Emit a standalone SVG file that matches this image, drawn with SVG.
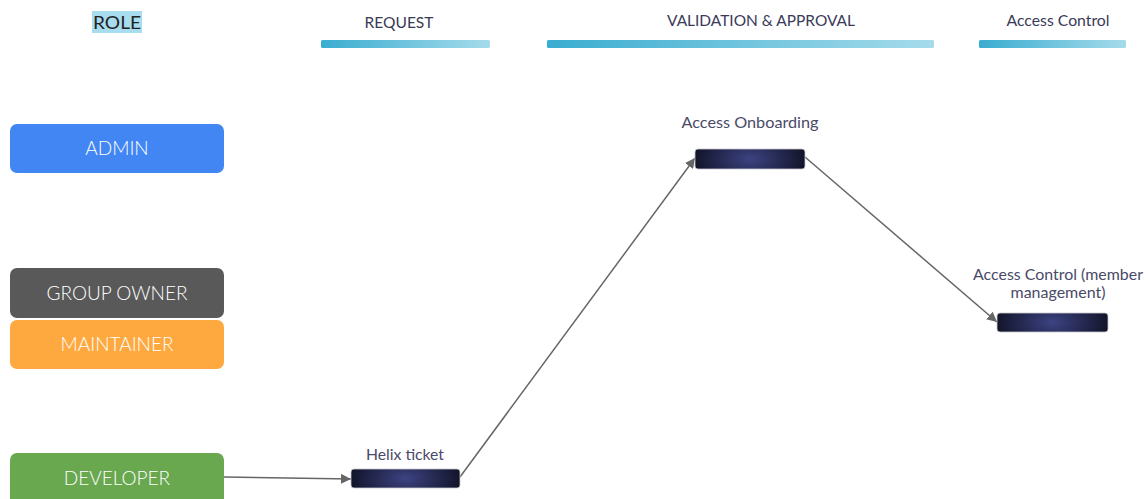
<svg xmlns="http://www.w3.org/2000/svg" width="1148" height="499" viewBox="0 0 1148 499">
<defs>
<linearGradient id="bar" x1="0" y1="0" x2="1" y2="0">
<stop offset="0" stop-color="#3aadd0"/>
<stop offset="1" stop-color="#a5dbeb"/>
</linearGradient>
<radialGradient id="dark" cx="0.5" cy="0.5" r="0.5" gradientTransform="translate(0.5 0.5) scale(1 3) translate(-0.5 -0.5)">
<stop offset="0" stop-color="#3c4382"/>
<stop offset="1" stop-color="#13152b"/>
</radialGradient>
<marker id="arr" viewBox="0 0 10 10" refX="10" refY="5" markerWidth="10" markerHeight="10" markerUnits="userSpaceOnUse" orient="auto">
<path d="M0,0 L10,5 L0,10 z" fill="#666"/>
</marker>
<style>
.hdr{font-family:Lato,"Noto Sans",sans-serif;font-size:15px;fill:#3a3a58;text-anchor:middle}
.role{font-family:Lato,"Noto Sans",sans-serif;font-size:19px;font-weight:300;fill:#ffffff;text-anchor:middle}
.lbl{font-family:Lato,"Noto Sans",sans-serif;font-size:15px;fill:#4a4a68;text-anchor:middle}
.dk{fill:url(#dark);stroke:#c8c8d0;stroke-width:0.8}
.bar{fill:url(#bar)}
.conn{stroke:#666;stroke-width:1.5;fill:none;marker-end:url(#arr)}
</style>
</defs>
<rect width="1148" height="499" fill="#ffffff"/>
<g id="header">
<rect x="92" y="11" width="50" height="22" fill="#a8dcef"/>
<text class="hdr" x="117" y="29" style="font-size:18px;fill:#222" textLength="48" lengthAdjust="spacingAndGlyphs">ROLE</text>
<text class="hdr" x="399" y="28" textLength="69" lengthAdjust="spacingAndGlyphs">REQUEST</text>
<rect class="bar" x="321" y="40" width="169" height="8" rx="1.5"/>
<text class="hdr" x="761" y="26" textLength="188" lengthAdjust="spacingAndGlyphs">VALIDATION &amp; APPROVAL</text>
<rect class="bar" x="547" y="40" width="387" height="8" rx="1.5"/>
<text class="hdr" x="1058" y="26" textLength="103" lengthAdjust="spacingAndGlyphs">Access Control</text>
<rect class="bar" x="979" y="40" width="147" height="8" rx="1.5"/>
</g>
<g id="role-admin">
<rect x="10" y="124" width="214" height="49" rx="7" fill="#4286f4"/>
<text class="role" x="117" y="155">ADMIN</text>
</g>
<g id="role-group-owner">
<rect x="10" y="268" width="214" height="50" rx="7" fill="#595959"/>
<text class="role" x="117" y="300">GROUP OWNER</text>
</g>
<g id="role-maintainer">
<rect x="10" y="320" width="214" height="49" rx="7" fill="#fea940"/>
<text class="role" x="117" y="351">MAINTAINER</text>
</g>
<g id="role-developer">
<rect x="10" y="453" width="214" height="52" rx="7" fill="#69a84f"/>
<text class="role" x="117" y="485">DEVELOPER</text>
</g>
<g id="connectors">
<path class="conn" d="M224,477 L351,479"/>
<path class="conn" d="M460,477 L695,158"/>
<path class="conn" d="M805,157 L997,322"/>
</g>
<g id="node-helix">
<text class="lbl" x="405" y="460" textLength="78" lengthAdjust="spacingAndGlyphs">Helix ticket</text>
<rect class="dk" x="351" y="469" width="109" height="19" rx="3"/>
</g>
<g id="node-onboarding">
<text class="lbl" x="750" y="128" textLength="137" lengthAdjust="spacingAndGlyphs">Access Onboarding</text>
<rect class="dk" x="695" y="149" width="110" height="20" rx="3"/>
</g>
<g id="node-access-control">
<text class="lbl" x="1058" y="280" textLength="170" lengthAdjust="spacingAndGlyphs">Access Control (member</text>
<text class="lbl" x="1058" y="298" textLength="95" lengthAdjust="spacingAndGlyphs">management)</text>
<rect class="dk" x="997" y="313" width="111" height="19" rx="3"/>
</g>
</svg>
